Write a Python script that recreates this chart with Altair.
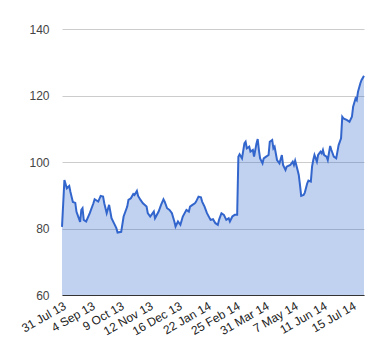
import altair as alt
import pandas as pd

# trading-day index (row number) and closing value
day = [0, 2, 4, 6, 7, 9, 11, 12, 13, 15, 16, 17, 18, 20, 23, 26, 27, 30, 32, 34,
       35, 37, 39, 41, 43, 45, 46, 49, 51, 54, 55, 57, 59, 60, 62, 63, 65, 67, 70, 71,
       73, 76, 77, 80, 82, 84, 85, 87, 89, 91, 93, 94, 96, 98, 100, 103, 105, 106, 108, 110,
       111, 113, 115, 116, 118, 120, 123, 125, 127, 129, 130, 132, 134, 136, 138, 139, 141, 143, 145, 146,
       147, 149, 151, 152, 153, 155, 156, 158, 159, 161, 162, 163, 164, 166, 167, 169, 171, 172, 174, 175,
       176, 178, 180, 182, 183, 185, 186, 189, 191, 192, 193, 195, 196, 197, 198, 200, 201, 203, 204, 206,
       207, 208, 209, 211, 212, 214, 215, 216, 217, 219, 220, 222, 223, 225, 227, 229, 231, 232, 233, 236,
       238, 240, 241, 243, 244, 245, 247, 248, 250]
value = [80.5, 94.6, 92.1, 92.8, 91.0, 88.0, 87.7, 85.0, 84.0, 82.0, 85.6, 86.1, 82.6, 82.1, 84.6, 87.6, 88.8, 88.1, 89.8, 89.6,
         87.6, 84.6, 87.1, 83.1, 81.6, 80.1, 78.8, 79.0, 83.6, 86.6, 88.6, 89.1, 90.4, 90.1, 91.3, 89.8, 88.6, 87.6, 86.6, 84.6,
         83.6, 85.1, 83.1, 85.1, 87.1, 88.8, 88.1, 86.1, 85.6, 84.6, 82.1, 80.6, 82.1, 81.1, 83.6, 85.6, 85.1, 86.6, 87.1, 87.6,
         88.1, 89.6, 89.4, 88.1, 86.6, 84.6, 82.6, 82.8, 81.6, 81.1, 82.6, 84.6, 84.1, 82.6, 83.1, 82.1, 83.6, 84.1, 84.1, 101.6,
         102.3, 101.1, 105.6, 106.1, 104.1, 104.6, 103.1, 103.6, 101.6, 105.6, 106.9, 103.6, 101.1, 99.6, 101.1, 101.6, 102.1, 106.1, 106.6, 104.1,
         104.6, 100.6, 99.6, 102.1, 99.1, 97.6, 98.6, 99.1, 100.1, 99.1, 100.4, 97.6, 96.1, 93.1, 89.8, 90.1, 90.8, 93.6, 94.4, 94.1,
         98.6, 100.6, 102.1, 100.1, 102.1, 103.1, 102.6, 103.6, 102.1, 101.6, 100.6, 104.8, 103.6, 101.6, 101.1, 105.1, 107.1, 113.6, 113.1, 112.6,
         112.1, 113.6, 116.6, 119.1, 118.6, 121.1, 123.7, 124.7, 125.9]

tick_days = [0, 24, 48, 72, 96, 120, 144, 168, 192, 216, 240]
tick_labels = ["31 Jul 13", "4 Sep 13", "9 Oct 13", "12 Nov 13", "16 Dec 13",
               "22 Jan 14", "25 Feb 14", "31 Mar 14", "7 May 14", "11 Jun 14", "15 Jul 14"]
y_ticks = [60, 80, 100, 120, 140]
y_min = 60

df = pd.DataFrame({"day": day, "value": value})

label_expr = "[" + ",".join(f"'{l}'" for l in tick_labels) + "][round(datum.value/24)]"

x_enc = alt.X(
    "day:Q",
    scale=alt.Scale(domain=[0, 250], nice=False, zero=False),
    axis=alt.Axis(
        values=tick_days, labelExpr=label_expr, labelAngle=-30,
        labelAlign="right", labelBaseline="top", grid=False, ticks=False,
        domainColor="#333333", domainWidth=1, labelPadding=5, title=None,
        labelFontSize=12, labelColor="#222222", labelOverlap=False, labelFlush=False,
        labelBound=False,
    ),
)
y_enc = alt.Y(
    "value:Q",
    scale=alt.Scale(domain=[y_min, 140], nice=False, zero=False),
    axis=alt.Axis(
        values=y_ticks, grid=True, gridColor="#cccccc", domain=False, ticks=False,
        labelPadding=13, title=None, labelFontSize=12, labelColor="#444444",
    ),
)

base = alt.Chart(df).encode(x=x_enc, y=y_enc)
area = base.mark_area(color="#3366cc", opacity=0.3).encode(y2=alt.datum(y_min))
line = base.mark_line(color="#3366cc", strokeWidth=2)

chart = (
    alt.layer(area, line)
    .properties(
        width=302, height=266,
        padding={"left": 54, "top": 21, "right": 8, "bottom": 50},
        autosize=alt.AutoSizeParams(type="none"),
    )
    .configure_view(stroke=None)
    .configure_axis(labelFont="Liberation Sans")
)

chart.save("out.html", embed_options={"renderer": "svg", "actions": False})
